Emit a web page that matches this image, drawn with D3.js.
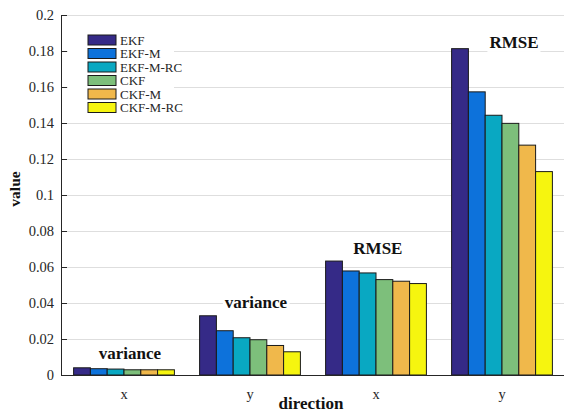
<!DOCTYPE html>
<meta charset="utf-8">
<style>
body { margin: 0; background: #fff; }
svg { display: block; }
.grid line { stroke: #dedede; stroke-width: 1px; }
.axis path, .axis line { stroke: #262626; }
.bars rect { stroke: #1a1a1a; stroke-width: 1px; }
</style>
<svg width="564" height="412"></svg>
<script src="https://d3js.org/d3.v7.min.js"></script>
<script>

var serif = "'Liberation Serif', 'Times New Roman', serif";

// data
var groups = ["x", "y", "x ", "y "];
var groupLabels = ["x", "y", "x", "y"];
var methods = ["EKF", "EKF-M", "EKF-M-RC", "CKF", "CKF-M", "CKF-M-RC"];
var colors = ["#352a87", "#0d72db", "#09a8c2", "#7dbf7b", "#f0b84b", "#f6f50f"];

var EKF      = [0.0040, 0.0329, 0.0633, 0.1813];
var EKF_M    = [0.0035, 0.0246, 0.0578, 0.1573];
var EKF_M_RC = [0.0033, 0.0207, 0.0567, 0.1443];
var CKF      = [0.0029, 0.0196, 0.0530, 0.1398];
var CKF_M    = [0.0029, 0.0164, 0.0521, 0.1277];
var CKF_M_RC = [0.0029, 0.0129, 0.0508, 0.1130];
var series = [EKF, EKF_M, EKF_M_RC, CKF, CKF_M, CKF_M_RC];

var yTicks = [0, 0.02, 0.04, 0.06, 0.08, 0.1, 0.12, 0.14, 0.16, 0.18, 0.2];

// text annotations, in data units (x offset from group centre in group steps)
var annoText  = ["variance", "variance", "RMSE", "RMSE"];
var annoGroup = [0, 1, 2, 3];
var annoDx    = [-0.2, -0.2, -0.18, -0.1];
var annoY     = [0.0089, 0.0374, 0.067, 0.1817];

var svg = d3.select("svg"),
    margin = {top: 15, right: 0, bottom: 37, left: 61},
    width = 565 - margin.left,
    height = 375 - margin.top;

var g = svg.append("g")
    .attr("transform", "translate(" + margin.left + "," + margin.top + ")");

var x0 = d3.scaleBand()
    .domain(groups)
    .range([0, width])
    .paddingInner(0.2)
    .paddingOuter(0.1);

var x1 = d3.scaleBand()
    .domain(methods)
    .range([0, x0.bandwidth()])
    .padding(0);

var y = d3.scaleLinear()
    .domain([0, 0.2])
    .range([height, 0]);

// grid
g.append("g")
    .attr("class", "grid")
  .selectAll("line")
  .data(yTicks)
  .enter().append("line")
    .attr("x1", 0)
    .attr("x2", width)
    .attr("y1", function(d) { return Math.round(y(d)) + 0.5; })
    .attr("y2", function(d) { return Math.round(y(d)) + 0.5; });

// bars
var rows = [];
groups.forEach(function(grp, gi) {
  methods.forEach(function(m, mi) {
    rows.push({group: grp, method: m, value: series[mi][gi], color: colors[mi]});
  });
});

g.append("g")
    .attr("class", "bars")
  .selectAll("rect")
  .data(rows)
  .enter().append("rect")
    .attr("x", function(d) { return x0(d.group) + x1(d.method); })
    .attr("y", function(d) { return y(d.value); })
    .attr("width", x1.bandwidth())
    .attr("height", function(d) { return height - y(d.value); })
    .attr("fill", function(d) { return d.color; });

// axes
var yAxis = d3.axisLeft(y)
    .tickValues(yTicks)
    .tickSize(-6)
    .tickPadding(7)
    .tickFormat(function(d) { return d3.format("")(+d.toFixed(2)); });

g.append("g")
    .attr("class", "axis")
    .call(yAxis)
    .call(function(s) {
      s.select(".domain").attr("d", "M0.5," + height + "V0");
      s.selectAll("text")
          .style("font-family", serif)
          .style("font-size", "14.5px")
          .style("fill", "#262626");
    });

var xAxis = d3.axisBottom(x0)
    .tickSize(0)
    .tickPadding(14)
    .tickFormat(function(d, i) { return groupLabels[i]; });

g.append("g")
    .attr("class", "axis")
    .attr("transform", "translate(0," + height + ")")
    .call(xAxis)
    .call(function(s) {
      s.select(".domain").attr("d", "M0," + 0.5 + "H" + width);
      s.selectAll("text")
          .style("font-family", serif)
          .style("font-size", "14.5px")
          .style("fill", "#262626");
    });

// annotations with white backgrounds
var anno = g.append("g").attr("class", "anno");
annoText.forEach(function(t, i) {
  var ax = x0(groups[annoGroup[i]]) + x0.bandwidth() / 2 + annoDx[i] * x0.step();
  var bg = anno.append("rect").attr("fill", "#fff");
  var txt = anno.append("text")
      .attr("x", ax)
      .attr("y", y(annoY[i]))
      .style("font-family", serif)
      .style("font-size", "17px")
      .style("font-weight", "bold")
      .style("fill", "#111")
      .text(t);
  var bb = txt.node().getBBox();
  bg.attr("x", bb.x - 2).attr("y", bb.y).attr("width", bb.width + 4).attr("height", bb.height);
});

// legend
var legend = g.append("g")
    .attr("class", "legend")
    .attr("transform", "translate(7,16)");

legend.append("rect")
    .attr("width", 106)
    .attr("height", 86)
    .attr("fill", "#fff");

var item = legend.selectAll("g.item")
  .data(methods)
  .enter().append("g")
    .attr("class", "item")
    .attr("transform", function(d, i) { return "translate(20," + (4 + i * 13.5) + ")"; });

item.append("rect")
    .attr("width", 28)
    .attr("height", 10)
    .attr("fill", function(d, i) { return colors[i]; })
    .attr("stroke", "#1a1a1a");

item.append("text")
    .attr("x", 32)
    .attr("y", 9.5)
    .style("font-family", serif)
    .style("font-size", "13px")
    .style("fill", "#262626")
    .text(function(d) { return d; });

// axis titles
svg.append("text")
    .attr("x", 311)
    .attr("y", 409)
    .attr("text-anchor", "middle")
    .style("font-family", serif)
    .style("font-size", "17px")
    .style("font-weight", "bold")
    .style("fill", "#111")
    .text("direction");

svg.append("text")
    .attr("transform", "translate(20,189) rotate(-90)")
    .attr("text-anchor", "middle")
    .style("font-family", serif)
    .style("font-size", "15.5px")
    .style("font-weight", "bold")
    .style("fill", "#111")
    .text("value");

</script>
